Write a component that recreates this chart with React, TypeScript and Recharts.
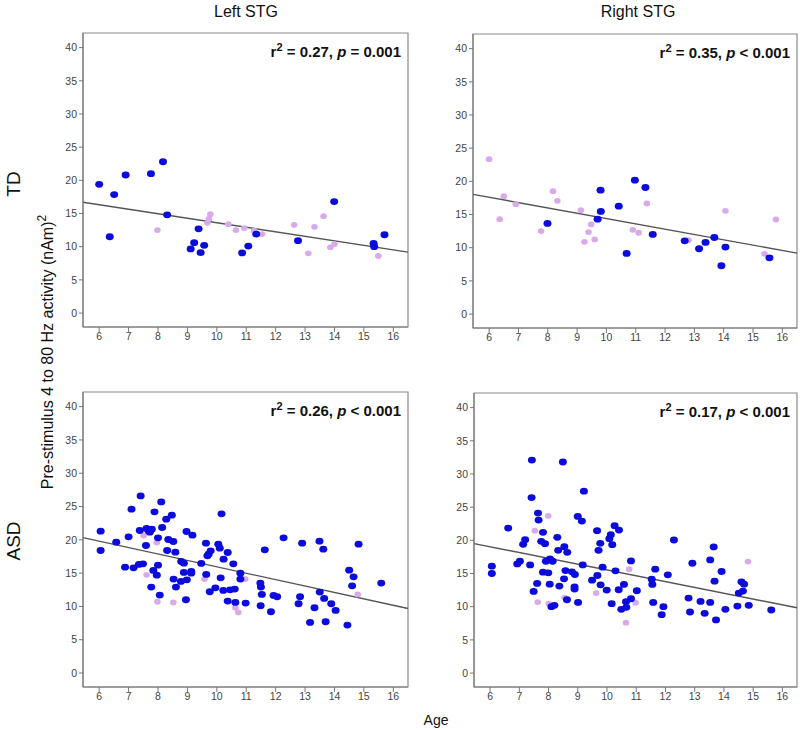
import React from 'react';
import { ScatterChart, Scatter, XAxis, YAxis, ReferenceLine, ReferenceArea } from 'recharts';

type Pt = { age: number; power: number };
const p = (pairs: number[][]): Pt[] => pairs.map(([age, power]) => ({ age, power }));

const AGE_TICKS = [6, 7, 8, 9, 10, 11, 12, 13, 14, 15, 16];
const POWER_TICKS = [0, 5, 10, 15, 20, 25, 30, 35, 40];
const AGE_DOMAIN: [number, number] = [5.45, 16.5];
const POWER_DOMAIN: [number, number] = [-2.1, 42.2];

// TD, left STG
const tdLeftBlue = p([
  [6.0, 19.4], [6.36, 11.5], [6.51, 17.85], [6.9, 20.8], [7.76, 21.0], [8.17, 22.8], [8.31, 14.8],
  [9.11, 9.67], [9.23, 10.6], [9.38, 12.7], [9.45, 9.1], [9.57, 10.2], [10.86, 9.07], [11.07, 10.1],
  [11.34, 11.9], [12.76, 10.9], [13.99, 16.8], [15.33, 10.5], [15.35, 10.0], [15.7, 11.8],
]);
const tdLeftPink = p([
  [7.98, 12.5], [9.78, 14.9], [9.73, 14.2], [9.68, 13.6], [10.39, 13.4], [10.65, 12.5], [10.93, 12.8],
  [11.27, 12.4], [11.54, 11.9], [12.63, 13.3], [13.11, 9.0], [13.32, 13.0], [13.63, 14.6], [13.86, 9.9],
  [14.0, 10.4], [15.49, 8.6],
]);

// TD, right STG
const tdRightBlue = p([
  [7.99, 13.65], [9.8, 18.67], [9.81, 15.46], [9.7, 14.3], [10.42, 16.26], [10.69, 9.13], [10.97, 20.18],
  [11.33, 19.07], [11.58, 12.0], [12.67, 11.04], [13.16, 9.84], [13.38, 10.79], [13.68, 11.54],
  [13.92, 7.28], [14.06, 10.09], [15.56, 8.48],
]);
const tdRightPink = p([
  [6.0, 23.34], [6.36, 14.3], [6.5, 17.77], [6.91, 16.56], [7.77, 12.5], [8.18, 18.52], [8.33, 17.06],
  [9.13, 15.66], [9.25, 10.89], [9.39, 12.35], [9.48, 13.5], [9.6, 11.24], [10.9, 12.7], [11.1, 12.25],
  [11.38, 16.66], [12.8, 11.14], [14.06, 15.56], [15.39, 9.08], [15.78, 14.25],
]);

// ASD, left STG
const asdLeftBlue = p([
  [6.05, 21.3], [6.05, 18.4], [6.58, 19.65], [6.88, 15.9], [7.0, 20.45], [7.1, 24.6], [7.17, 15.8],
  [7.41, 26.6], [7.38, 21.4], [7.35, 16.3], [7.49, 16.4], [7.59, 19.15], [7.61, 21.7], [7.68, 21.35],
  [7.72, 21.15], [7.79, 21.6], [7.77, 12.9], [7.84, 15.4], [7.88, 24.2], [7.96, 14.7], [8.0, 20.3],
  [8.0, 16.2], [8.06, 11.7], [8.11, 25.7], [8.14, 21.85], [8.28, 23.1], [8.31, 18.4], [8.35, 20.05],
  [8.47, 23.7], [8.52, 19.75], [8.53, 14.1], [8.59, 18.15], [8.61, 12.9], [8.78, 13.75], [8.79, 16.75],
  [8.88, 16.5], [8.88, 15.1], [8.97, 21.25], [8.95, 11.0], [8.98, 14.0], [9.13, 15.25], [9.13, 15.0],
  [9.17, 20.7], [9.47, 16.45], [9.63, 19.5], [9.64, 14.8], [9.68, 17.6], [9.72, 17.85], [9.79, 18.35],
  [9.76, 12.2], [9.95, 12.8], [10.05, 19.35], [10.1, 18.75], [10.16, 23.9], [10.13, 14.3], [10.23, 17.1],
  [10.22, 12.4], [10.37, 18.1], [10.37, 10.8], [10.45, 12.5], [10.56, 16.4], [10.61, 12.6], [10.63, 10.6],
  [10.8, 15.0], [10.8, 14.1], [10.98, 10.5], [11.48, 13.5], [11.5, 12.9], [11.53, 11.8], [11.49, 10.1],
  [11.63, 18.5], [11.84, 9.2], [11.93, 11.65], [12.05, 11.45], [12.27, 20.3], [12.78, 10.4], [12.83, 11.45],
  [12.9, 19.5], [13.17, 7.6], [13.32, 9.8], [13.49, 19.8], [13.5, 12.15], [13.62, 18.6], [13.65, 11.2],
  [13.7, 7.7], [13.89, 10.4], [14.04, 9.4], [14.44, 7.2], [14.5, 15.45], [14.6, 13.1], [14.65, 14.45],
  [14.82, 19.35], [15.59, 13.5],
]);
const asdLeftPink = p([
  [7.51, 20.65], [7.61, 14.75], [7.96, 19.6], [7.98, 10.7], [8.52, 10.6], [9.58, 14.1], [10.63, 9.8],
  [10.73, 9.1], [10.97, 14.1], [14.79, 11.8],
]);

// ASD, right STG
const asdRightBlue = p([
  [6.06, 16.1], [6.06, 15.0], [6.62, 21.85], [6.93, 16.45], [7.02, 16.85], [7.13, 19.4], [7.2, 20.1],
  [7.37, 16.3], [7.43, 32.1], [7.42, 26.45], [7.49, 12.3], [7.61, 13.5], [7.64, 24.1], [7.66, 23.05],
  [7.75, 19.85], [7.81, 21.2], [7.81, 15.2], [7.88, 19.5], [7.91, 16.85], [7.99, 15.1], [8.04, 13.4],
  [8.05, 17.2], [8.1, 10.0], [8.14, 16.85], [8.2, 10.2], [8.3, 20.45], [8.33, 18.5], [8.37, 13.1],
  [8.49, 31.8], [8.53, 14.2], [8.54, 19.05], [8.58, 15.45], [8.64, 18.2], [8.63, 11.05], [8.8, 15.25],
  [8.89, 13.0], [8.89, 12.65], [8.9, 14.85], [9.0, 23.6], [9.01, 10.65], [9.14, 22.9], [9.17, 16.3],
  [9.21, 27.4], [9.49, 14.0], [9.66, 21.45], [9.67, 14.7], [9.71, 18.5], [9.77, 19.55], [9.78, 13.3],
  [9.85, 15.95], [9.99, 12.5], [10.08, 20.25], [10.13, 20.85], [10.18, 19.35], [10.16, 10.45],
  [10.26, 22.2], [10.29, 15.4], [10.41, 21.55], [10.4, 12.55], [10.49, 9.6], [10.58, 13.35], [10.65, 10.75],
  [10.66, 9.9], [10.82, 16.9], [10.82, 11.2], [11.02, 12.4], [11.53, 14.15], [11.55, 13.35], [11.58, 10.65],
  [11.65, 15.65], [11.87, 8.8], [11.93, 10.0], [12.08, 14.8], [12.29, 20.05], [12.79, 11.3], [12.84, 9.2],
  [12.92, 16.55], [13.2, 10.8], [13.34, 9.0], [13.53, 17.05], [13.53, 10.65], [13.65, 19.0], [13.68, 13.85],
  [13.73, 8.0], [13.92, 15.3], [14.05, 9.6], [14.46, 10.1], [14.51, 12.05], [14.6, 13.75], [14.65, 12.35],
  [14.69, 13.4], [14.85, 10.2], [15.62, 9.5],
]);
const asdRightPink = p([
  [7.53, 21.45], [7.63, 10.7], [7.99, 23.7], [8.01, 10.45], [8.55, 11.35], [9.63, 12.05], [10.76, 15.65],
  [10.65, 7.6], [10.98, 10.6], [14.82, 16.8],
]);

// regression lines: [intercept, slope]
const tdLeftFit = [20.41, -0.681];
const tdRightFit = [22.4, -0.801];
const asdLeftFit = [25.58, -0.963];
const asdRightFit = [24.28, -0.875];

const BLUE = '#0b0bdc';
const PINK = '#d8aaea';
const FONT = '"Liberation Sans", Arial, sans-serif';

const Dot = (color: string, rx: number, ry: number) => (props: any) =>
  <ellipse cx={props.cx} cy={props.cy} rx={rx} ry={ry} fill={color} />;

interface PanelProps {
  left: number;
  top: number;
  w: number;
  h: number;
  blue: Pt[];
  pink: Pt[];
  fit: number[];
  stat: React.ReactNode;
}

const Panel: React.FC<PanelProps> = ({ left, top, w, h, blue, pink, fit, stat }) => {
  const [b, m] = fit;
  const yAt = (x: number) => b + m * x;
  return (
    <div style={{ position: 'absolute', left: left - 30, top: top - 1 }}>
      <ScatterChart width={w + 32} height={h + 24} margin={{ top: 1, right: 2, bottom: 0, left: 0 }}>
        <XAxis
          type="number"
          dataKey="age"
          domain={AGE_DOMAIN}
          ticks={AGE_TICKS}
          allowDataOverflow
          height={23}
          tickSize={5}
          tickMargin={1}
          stroke="#777"
          tick={{ fill: '#444', fontSize: 10.5, fontFamily: FONT }}
        />
        <YAxis
          type="number"
          dataKey="power"
          domain={POWER_DOMAIN}
          ticks={POWER_TICKS}
          allowDataOverflow
          width={30}
          tickSize={4}
          tickMargin={2}
          stroke="#777"
          tick={{ fill: '#444', fontSize: 10.5, fontFamily: FONT }}
        />
        <ReferenceArea
          x1={AGE_DOMAIN[0]}
          x2={AGE_DOMAIN[1]}
          y1={POWER_DOMAIN[0]}
          y2={POWER_DOMAIN[1]}
          fill="none"
          stroke="#8a8a8a"
          strokeWidth={1.2}
        />
        <Scatter data={pink} shape={Dot(PINK, 3.3, 2.9)} isAnimationActive={false} />
        <Scatter data={blue} shape={Dot(BLUE, 4, 3.4)} isAnimationActive={false} />
        <ReferenceLine
          segment={[
            { x: AGE_DOMAIN[0], y: yAt(AGE_DOMAIN[0]) },
            { x: AGE_DOMAIN[1], y: yAt(AGE_DOMAIN[1]) },
          ]}
          stroke="#555"
          strokeWidth={1.4}
        />
      </ScatterChart>
      <div
        style={{
          position: 'absolute',
          right: 9,
          top: 9,
          fontFamily: FONT,
          fontWeight: 700,
          fontSize: 15,
          color: '#111',
          whiteSpace: 'nowrap',
        }}
      >
        {stat}
      </div>
    </div>
  );
};

const Stat = ({ r2, pv }: { r2: string; pv: string }) => (
  <span>
    r<sup style={{ fontSize: 11 }}>2</sup> = {r2}, <i>p</i> {pv}
  </span>
);

export default function App() {
  const label: React.CSSProperties = { position: 'absolute', fontFamily: FONT, color: '#111', whiteSpace: 'nowrap' };
  return (
    <div style={{ position: 'absolute', left: 0, top: 0, width: 800, height: 730, background: '#fff', overflow: 'hidden' }}>
      <div style={{ ...label, left: 246, top: 12, fontSize: 16, transform: 'translate(-50%,-50%)' }}>Left STG</div>
      <div style={{ ...label, left: 638, top: 12, fontSize: 16, transform: 'translate(-50%,-50%)' }}>Right STG</div>
      <div style={{ ...label, left: 14, top: 184, fontSize: 19, transform: 'translate(-50%,-50%) rotate(-90deg)' }}>TD</div>
      <div style={{ ...label, left: 14, top: 541, fontSize: 19, transform: 'translate(-50%,-50%) rotate(-90deg)' }}>ASD</div>
      <div style={{ ...label, left: 46, top: 352, fontSize: 16, transform: 'translate(-50%,-50%) rotate(-90deg)' }}>
        Pre-stimulus 4 to 80 Hz activity (nAm)<sup style={{ fontSize: 12 }}>2</sup>
      </div>
      <div style={{ ...label, left: 436, top: 720, fontSize: 14, transform: 'translate(-50%,-50%)' }}>Age</div>

      <Panel left={83} top={33} w={325} h={294} blue={tdLeftBlue} pink={tdLeftPink} fit={tdLeftFit}
        stat={<Stat r2="0.27" pv="= 0.001" />} />
      <Panel left={473} top={34} w={324} h={294} blue={tdRightBlue} pink={tdRightPink} fit={tdRightFit}
        stat={<Stat r2="0.35" pv="< 0.001" />} />
      <Panel left={83} top={392} w={325} h={295} blue={asdLeftBlue} pink={asdLeftPink} fit={asdLeftFit}
        stat={<Stat r2="0.26" pv="< 0.001" />} />
      <Panel left={474} top={393} w={323} h={294} blue={asdRightBlue} pink={asdRightPink} fit={asdRightFit}
        stat={<Stat r2="0.17" pv="< 0.001" />} />
    </div>
  );
}
